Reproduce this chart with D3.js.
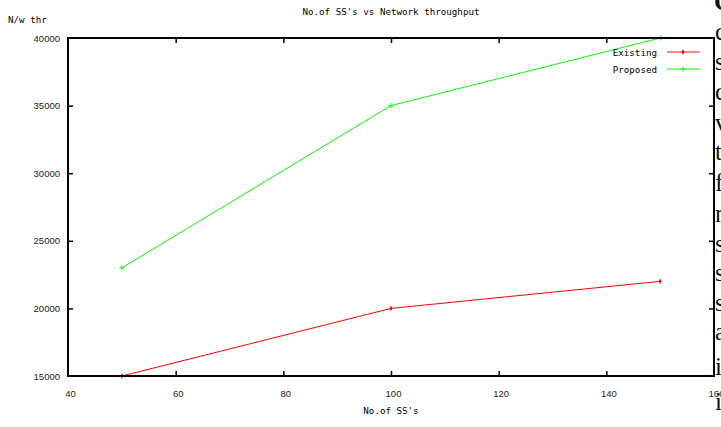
<!DOCTYPE html>
<html>
<head>
<meta charset="utf-8">
<script src="https://cdn.jsdelivr.net/npm/d3@7"></script>
<style>
  html, body { margin: 0; padding: 0; background: #fff; overflow: hidden; }
  svg { display: block; }
</style>
</head>
<body>
<svg id="chart" width="721" height="427"></svg>
<script>
// ---- data ----
const xValues = [50, 100, 150];
const existing = [15000, 20000, 22000];
const proposed = [23000, 35000, 40000];
const xTicks = [40, 60, 80, 100, 120, 140, 160];
const yTicks = [15000, 20000, 25000, 30000, 35000, 40000];
const seriesNames = ["Existing", "Proposed"];
const seriesColors = ["#ff0000", "#00ff00"];
const titleText = "No.of SS's vs Network throughput";
const xLabelText = "No.of SS's";
const yLabelText = "N/w thr";
// fragment of surrounding document text visible at the right edge
const sideLetters = ["c", "s", "c", "v", "t", "f", "n", "s", "s", "s", "a", "i", "i"];

// ---- layout ----
const pL = 68, pR = 714, pT = 38, pB = 376;
const svg = d3.select("#chart");

const x = d3.scaleLinear().domain([40, 160]).range([pL, pR]);
const y = d3.scaleLinear().domain([15000, 40000]).range([pB, pT]);

const mono = "'DejaVu Sans Mono', monospace";
const sans = "'Liberation Sans', Arial, sans-serif";

// title
svg.append("text").attr("x", (pL + pR) / 2).attr("y", 15)
  .attr("text-anchor", "middle").attr("font-family", mono).attr("font-size", 9.2)
  .attr("fill", "#000").text(titleText);
// y label
svg.append("text").attr("x", 8).attr("y", 23)
  .attr("font-family", mono).attr("font-size", 9.2).attr("fill", "#000").text(yLabelText);
// x label
svg.append("text").attr("x", (pL + pR) / 2).attr("y", 414)
  .attr("text-anchor", "middle").attr("font-family", mono).attr("font-size", 9.2)
  .attr("fill", "#000").text(xLabelText);

// axes (ticks inward, mirrored)
const tickLen = 5;
const gAx = svg.append("g");
const bottomAxis = d3.axisBottom(x).tickValues(xTicks).tickSize(-tickLen).tickFormat(d3.format("d"));
const topAxis = d3.axisTop(x).tickValues(xTicks).tickSize(-tickLen).tickFormat("");
const leftAxis = d3.axisLeft(y).tickValues(yTicks).tickSize(-tickLen).tickPadding(8).tickFormat(d3.format("d"));
const rightAxis = d3.axisRight(y).tickValues(yTicks).tickSize(-tickLen).tickFormat("");

function styleAxis(g) {
  g.select(".domain").remove();
  g.selectAll(".tick line").attr("stroke", "#000").attr("stroke-width", 1.5);
  g.selectAll(".tick text").attr("font-family", sans).attr("font-size", 9.5).attr("fill", "#222");
}
gAx.append("g").attr("transform", `translate(0,${pB})`).call(bottomAxis).call(styleAxis)
  .selectAll(".tick text").attr("dx", 2).attr("dy", 0).attr("y", 21);
gAx.append("g").attr("transform", `translate(0,${pT})`).call(topAxis).call(styleAxis);
gAx.append("g").attr("transform", `translate(${pL},0)`).call(leftAxis).call(styleAxis)
  .selectAll(".tick text").attr("x", -8);
gAx.append("g").attr("transform", `translate(${pR},0)`).call(rightAxis).call(styleAxis);

// remove ticks at the corners (border covers them)
gAx.selectAll(".tick").filter(d => d === 40 || d === 160 || d === 15000 || d === 40000)
  .select("line").remove();

// series
const seriesData = [existing, proposed];
const line = d3.line().x(d => x(d[0])).y(d => y(d[1]));
seriesData.forEach((vals, i) => {
  const pts = xValues.map((xv, j) => [xv, vals[j]]);
  svg.append("path").datum(pts).attr("d", line)
    .attr("fill", "none").attr("stroke", seriesColors[i]).attr("stroke-width", 1);
  const m = svg.append("g");
  pts.forEach(p => {
    if (i === 0) {
      m.append("path").attr("d", d3.symbol(d3.symbolDiamond, 8)())
        .attr("transform", `translate(${x(p[0])},${y(p[1])})`)
        .attr("fill", seriesColors[i]);
    } else {
      m.append("path").attr("d", `M-2.5,0H2.5M0,-2.5V2.5`)
        .attr("transform", `translate(${x(p[0])},${y(p[1])})`)
        .attr("stroke", seriesColors[i]).attr("stroke-width", 1);
    }
  });
});

// legend
const legY = [52, 69];
seriesNames.forEach((name, i) => {
  svg.append("text").attr("x", 657).attr("y", legY[i] + 3.5)
    .attr("text-anchor", "end").attr("font-family", mono).attr("font-size", 9.2)
    .attr("fill", "#000").text(name);
  svg.append("line").attr("x1", 667).attr("x2", 700).attr("y1", legY[i]).attr("y2", legY[i])
    .attr("stroke", i === 0 ? "#ff8a8a" : seriesColors[i]).attr("stroke-width", i === 0 ? 2 : 1);
  if (i === 0) {
    svg.append("path").attr("d", d3.symbol(d3.symbolDiamond, 8)())
      .attr("transform", `translate(683,${legY[i]})`).attr("fill", "#ff0000");
  } else {
    svg.append("path").attr("d", `M-2.5,0H2.5M0,-2.5V2.5`)
      .attr("transform", `translate(683,${legY[i]})`)
      .attr("stroke", seriesColors[i]).attr("stroke-width", 1);
  }
});

// frame
svg.append("rect").attr("x", pL).attr("y", pT)
  .attr("width", pR - pL).attr("height", pB - pT)
  .attr("fill", "none").attr("stroke", "#000").attr("stroke-width", 2);

// side document text fragments (serif) at right edge
const sideBase = [40, 70, 100, 131, 160, 191, 222, 252, 281, 311, 340, 375, 410];
svg.append("text").attr("x", 714).attr("y", 10).attr("font-family", "'Liberation Serif', serif")
  .attr("font-size", 25).attr("font-weight", "bold").attr("fill", "#111").text("C");
sideLetters.forEach((ch, i) => {
  svg.append("text").attr("x", 715).attr("y", sideBase[i])
    .attr("font-family", "'Liberation Serif', serif").attr("font-size", 25)
    .attr("fill", "#111").text(ch);
});
</script>
</body>
</html>
